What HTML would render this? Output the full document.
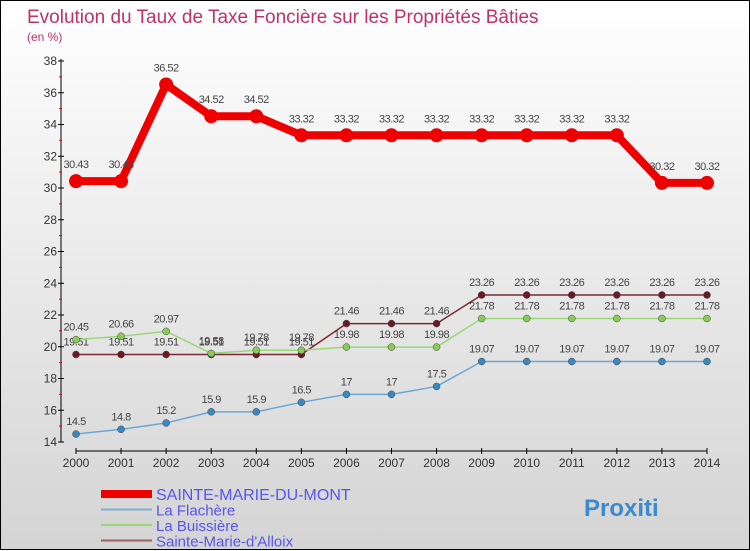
<!DOCTYPE html>
<html><head><meta charset="utf-8"><style>
body{margin:0;width:750px;height:550px;overflow:hidden;font-family:"Liberation Sans",sans-serif}
#wrap{position:relative;width:748px;height:548px;border:1px solid #000;background:linear-gradient(#ffffff,#f2f2f2 30%,#d4d4d4)}
svg{position:absolute;left:0;top:0}
</style></head><body>
<div id="wrap">
<svg id="c" width="750" height="550">
<text x="26" y="22" font-size="19" fill="#c0306a">Evolution du Taux de Taxe Foncière sur les Propriétés Bâties</text>
<text x="26" y="40" font-size="12" fill="#c0306a">(en %)</text>
</svg></div>
<script>
const years=[2000,2001,2002,2003,2004,2005,2006,2007,2008,2009,2010,2011,2012,2013,2014];
const yTicks=[14,16,18,20,22,24,26,28,30,32,34,36,38];
const sMont=[30.43,30.43,36.52,34.52,34.52,33.32,33.32,33.32,33.32,33.32,33.32,33.32,33.32,30.32,30.32];
const sFlach=[14.5,14.8,15.2,15.9,15.9,16.5,17,17,17.5,19.07,19.07,19.07,19.07,19.07,19.07];
const sBuis=[20.45,20.66,20.97,19.58,19.78,19.78,19.98,19.98,19.98,21.78,21.78,21.78,21.78,21.78,21.78];
const sAll=[19.51,19.51,19.51,19.51,19.51,19.51,21.46,21.46,21.46,23.26,23.26,23.26,23.26,23.26,23.26];
const names=["SAINTE-MARIE-DU-MONT","La Flachère","La Buissière","Sainte-Marie-d'Alloix"];
const svg=document.getElementById('c');const NS='http://www.w3.org/2000/svg';
function X(i){return 75+i*(706-75)/(years.length-1);}
function Y(v){return 441-(v-14)*(441-60)/24;}
function mk(t,a,p){const e=document.createElementNS(NS,t);for(const k in a)e.setAttribute(k,a[k]);(p||svg).appendChild(e);return e;}
const ax=mk('g',{});


mk('line',{x1:60,y1:58,x2:60,y2:441,stroke:'#000'},ax);
mk('line',{x1:75,y1:450,x2:706,y2:450,stroke:'#000'},ax);
yTicks.forEach(v=>{const y=Y(v);mk('line',{x1:57,y1:y,x2:63,y2:y,stroke:'#000'},ax);
 if(v<38)mk('line',{x1:58,y1:Y(v+1),x2:61,y2:Y(v+1),stroke:'#e00'},ax);
 const t=mk('text',{x:56,y:y+4,'text-anchor':'end','font-size':12,fill:'#333'},ax);t.textContent=v;
 });
years.forEach((yr,i)=>{const x=X(i);mk('line',{x1:x,y1:447,x2:x,y2:453,stroke:'#000'},ax);
 const t=mk('text',{x:x,y:466,'text-anchor':'middle','font-size':12,fill:'#333'},ax);t.textContent=yr;
 });
function series(d,col,lw,r,ptcol,name){const g=mk('g',{});
 
 mk('polyline',{points:d.map((v,i)=>X(i)+','+Y(v)).join(' '),fill:'none',stroke:col,'stroke-width':lw,'stroke-linejoin':'round'},g);
 d.forEach((v,i)=>{const c=mk('circle',{cx:X(i),cy:Y(v),r:r,fill:ptcol,stroke:r>4?'none':'#444','stroke-width':0.5},g);
  
  const t=mk('text',{x:X(i),y:Y(v)-9-(r>4?4:0),'text-anchor':'middle','font-size':11,fill:'#444','letter-spacing':'-0.5'},g);t.textContent=v;
  });}
series(sAll,'#7a2a34',1.5,3.5,'#6a1a24',"series-sainte-marie-d-alloix");
series(sBuis,'#99d877',1.5,3.5,'#88cc55',"series-la-buissiere");
series(sFlach,'#6aa6d6',1.5,3.5,'#3a88c0',"series-la-flachere");
series(sMont,'#ee0000',8,7,'#ee0000',"series-sainte-marie-du-mont");
const cols=['#ee0000','#7aaed6','#99d877','#9a6060'],lws=[8,2,2,2];
names.forEach((n,i)=>{const y=493+i*15.5;const g=mk('g',{});
 
 mk('line',{x1:100,y1:y,x2:151,y2:y,stroke:cols[i],'stroke-width':lws[i]},g);
 const t=mk('text',{x:155,y:y+6,'font-size':i==0?16:15,fill:'#5555ee'},g);t.textContent=n;});
const lg=mk('text',{x:583,y:515,'font-size':24,'font-weight':'bold',fill:'#3a8ad0'});
lg.textContent='Proxiti';

</script></body></html>
